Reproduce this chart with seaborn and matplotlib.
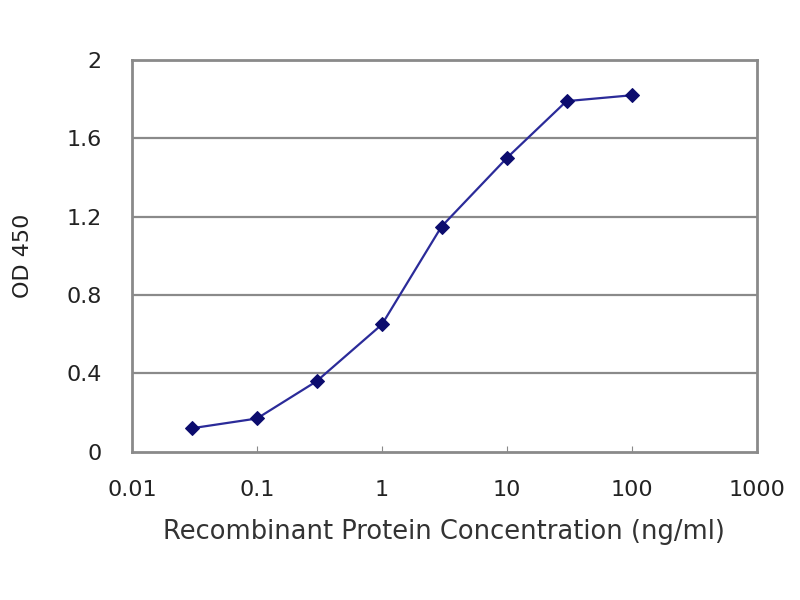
import matplotlib
matplotlib.use("Agg")
import matplotlib.pyplot as plt
import seaborn as sns
import pandas as pd

# ELISA standard curve values
concentration = [0.03, 0.1, 0.3, 1, 3, 10, 30, 100]
od450 = [0.12, 0.17, 0.36, 0.65, 1.15, 1.50, 1.79, 1.82]
y_ticks = [0, 0.4, 0.8, 1.2, 1.6, 2]
y_tick_labels = ["0", "0.4", "0.8", "1.2", "1.6", "2"]
x_ticks = [0.01, 0.1, 1, 10, 100, 1000]
x_tick_labels = ["0.01", "0.1", "1", "10", "100", "1000"]

df = pd.DataFrame({"conc": concentration, "od": od450})

sns.set_style("white")
plt.rcParams['font.family'] = ['DejaVu Sans']

fig = plt.figure(figsize=(8, 6), dpi=100)
ax = fig.add_axes([0.165, 0.247, 0.781, 0.653])

sns.lineplot(data=df, x="conc", y="od", ax=ax, color="#2b2b99", linewidth=1.6,
             marker="D", markersize=7, markeredgecolor="#0c0c6e",
             markerfacecolor="#0c0c6e")

ax.set_xscale("log")
ax.set_xlim(0.01, 1000)
ax.set_ylim(0, 2)
ax.set_yticks(y_ticks)
ax.set_yticklabels(y_tick_labels)
ax.set_xticks(x_ticks)
ax.set_xticklabels(x_tick_labels)
ax.minorticks_off()

for y in y_ticks[1:]:
    ax.axhline(y, color="#8a8a8a", linewidth=1.6, zorder=0)

for s in ax.spines.values():
    s.set_color("#8a8a8a")
    s.set_linewidth(2)
    s.set_visible(True)

ax.tick_params(axis="x", direction="in", length=4, color="#8a8a8a",
               labelsize=16, pad=20, bottom=True, labelcolor="#222222")
ax.tick_params(axis="y", length=0, labelsize=16, pad=22, labelcolor="#222222")

ax.set_xlabel("Recombinant Protein Concentration (ng/ml)", fontsize=18.5,
              labelpad=14, color="#333333")
ax.set_ylabel("OD 450", fontsize=16, labelpad=24, color="#222222")

fig.savefig("out.png", dpi=100)
